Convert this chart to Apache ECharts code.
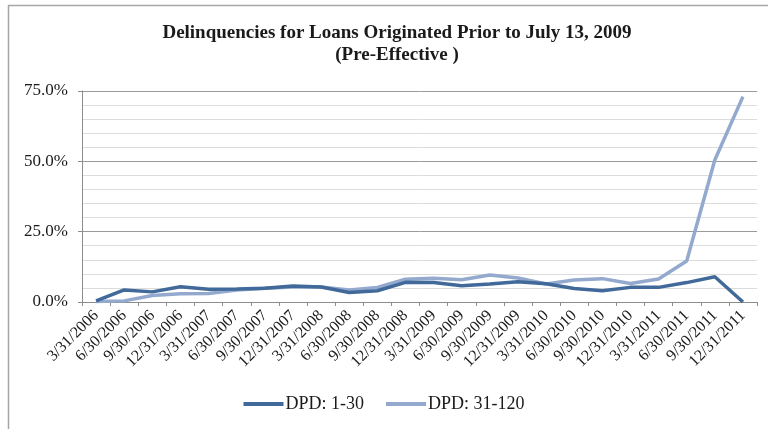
<!DOCTYPE html>
<html>
<head>
<meta charset="utf-8">
<script src="https://cdn.jsdelivr.net/npm/echarts@6/dist/echarts.min.js"></script>
<style>
  html, body { margin: 0; padding: 0; background: #ffffff; }
  #chart { width: 768px; height: 429px; }
</style>
</head>
<body>
<div id="chart"></div>
<script>
// Quarter-end reporting dates
const quarters = ['3/31/2006','6/30/2006','9/30/2006','12/31/2006','3/31/2007','6/30/2007',
  '9/30/2007','12/31/2007','3/31/2008','6/30/2008','9/30/2008','12/31/2008','3/31/2009',
  '6/30/2009','9/30/2009','12/31/2009','3/31/2010','6/30/2010','9/30/2010','12/31/2010',
  '3/31/2011','6/30/2011','9/30/2011','12/31/2011'];

// Delinquency rates, percent of balance
const dpd1to30 = [0.4, 4.3, 3.6, 5.4, 4.5, 4.6, 4.9, 5.7, 5.3, 3.4, 4.0, 7.0,
  6.9, 5.8, 6.4, 7.2, 6.5, 4.8, 4.0, 5.2, 5.2, 6.9, 9.0, 0.0];
const dpd31to120 = [0.2, 0.4, 2.3, 2.9, 3.0, 4.3, 4.9, 5.3, 5.3, 4.3, 5.2, 8.1,
  8.4, 7.9, 9.6, 8.5, 6.4, 7.8, 8.3, 6.6, 8.2, 14.6, 50.5, 73.0];

const seriesNames = ['DPD: 1-30', 'DPD: 31-120'];
const yTicks = { min: 0, max: 75, step: 25 };

const serif = '"Liberation Serif", "Times New Roman", serif';
const chart = echarts.init(document.getElementById('chart'));

chart.setOption({
  backgroundColor: '#ffffff',
  animation: false,
  graphic: [{
    type: 'rect',
    shape: { x: 8.5, y: 5.5, width: 800, height: 500 },
    style: { fill: 'none', stroke: '#a6a6a6', lineWidth: 1.5 },
    silent: true
  }],
  title: {
    text: 'Delinquencies for Loans Originated Prior to July 13, 2009\n(Pre-Effective )',
    left: 392,
    textAlign: 'center',
    top: 17,
    textStyle: {
      fontFamily: serif,
      fontWeight: 'bold',
      fontSize: 19,
      lineHeight: 22,
      color: '#1a1a1a'
    }
  },
  legend: {
    data: seriesNames,
    bottom: 11,
    left: 'center',
    icon: 'rect',
    itemWidth: 40,
    itemHeight: 4,
    itemGap: 22,
    textStyle: { fontFamily: serif, fontSize: 18, color: '#1a1a1a', padding: [0, 0, 0, -3] }
  },
  grid: { left: 82, right: 11, top: 91, bottom: 127 },
  xAxis: {
    type: 'category',
    data: quarters,
    boundaryGap: true,
    axisLine: { lineStyle: { color: '#8c8c8c', width: 1 } },
    axisTick: { show: true, length: 4, lineStyle: { color: '#8c8c8c' } },
    axisLabel: {
      interval: 0,
      rotate: 45,
      margin: 11,
      fontFamily: serif,
      fontSize: 16,
      color: '#1a1a1a'
    },
    splitLine: { show: false }
  },
  yAxis: {
    type: 'value',
    min: yTicks.min,
    max: yTicks.max,
    interval: yTicks.step,
    axisLine: { show: true, lineStyle: { color: '#8c8c8c', width: 1 } },
    axisTick: { show: true, length: 4, lineStyle: { color: '#8c8c8c' } },
    axisLabel: {
      margin: 14,
      fontFamily: serif,
      fontSize: 17,
      color: '#1a1a1a',
      formatter: v => v.toFixed(1) + '%'
    },
    splitLine: { show: true, lineStyle: { color: '#9a9a9a', width: 1 } },
    minorTick: { show: false, splitNumber: 5 },
    minorSplitLine: { show: true, lineStyle: { color: '#dcdcdc', width: 1 } }
  },
  series: [
    {
      name: seriesNames[0],
      type: 'line',
      data: dpd1to30,
      symbol: 'none',
      lineStyle: { color: '#41699a', width: 3.5 },
      itemStyle: { color: '#41699a' },
      z: 3
    },
    {
      name: seriesNames[1],
      type: 'line',
      data: dpd31to120,
      symbol: 'none',
      lineStyle: { color: '#93a9cd', width: 3.5 },
      itemStyle: { color: '#93a9cd' },
      z: 2
    }
  ]
});
</script>
</body>
</html>
